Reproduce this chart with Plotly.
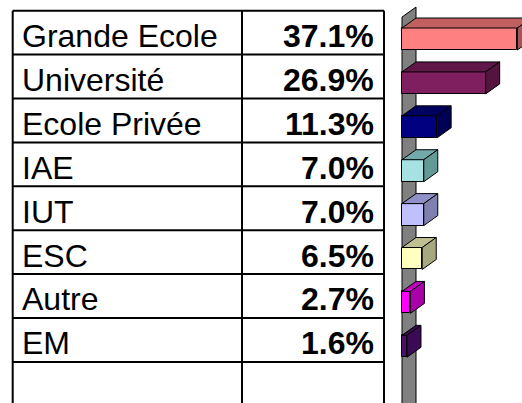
import plotly.graph_objects as go

# ---- data ----
categories = ["Grande Ecole", "Université", "Ecole Privée", "IAE", "IUT", "ESC", "Autre", "EM"]
values = [37.1, 26.9, 11.3, 7.0, 7.0, 6.5, 2.7, 1.6]
value_labels = ["37.1%", "26.9%", "11.3%", "7.0%", "7.0%", "6.5%", "2.7%", "1.6%"]
front_colors = ["#FF8080", "#7F1F5F", "#000080", "#A6E2E2", "#C0C0FF", "#FFFFC0", "#FF00FF", "#4A1068"]
top_colors = ["#C06060", "#5F1747", "#000060", "#72AAAA", "#9090C8", "#C0C092", "#C000C0", "#3A0A55"]
side_colors = ["#A85454", "#551440", "#000055", "#629A96", "#8080B0", "#A8A880", "#AA00AA", "#3A0A55"]

W, H = 522, 403
X0_PX, PX_PER_UNIT = 402.0, 3.11      # x axis mapping
Y0_PX, PX_PER_ROW = 39.0, 43.9        # y axis mapping (row index)
DX = 14.0 / PX_PER_UNIT               # 3D depth offsets in data units
DY = 10.0 / PX_PER_ROW
HALF = 0.25                           # half height of bar front face (rows)

xr = [-X0_PX / PX_PER_UNIT, (W - X0_PX) / PX_PER_UNIT]
yr = [(H - Y0_PX) / PX_PER_ROW, -Y0_PX / PX_PER_ROW]

ypos = list(range(len(categories)))

fig = go.Figure()

# front faces as real bars
fig.add_trace(go.Bar(
    x=values, y=ypos, orientation="h", base=0, width=2 * HALF,
    marker=dict(color=front_colors, line=dict(color="black", width=1)),
    hoverinfo="skip", showlegend=False,
))

# top and side faces (3D depth) computed from the values
for i, v in enumerate(values):
    c = ypos[i]
    top_x = [0, v, v + DX, DX, 0]
    top_y = [c - HALF, c - HALF, c - HALF - DY, c - HALF - DY, c - HALF]
    fig.add_trace(go.Scatter(x=top_x, y=top_y, mode="lines", fill="toself",
                             fillcolor=top_colors[i], line=dict(color="black", width=1),
                             hoverinfo="skip", showlegend=False))
    side_x = [v, v + DX, v + DX, v, v]
    side_y = [c - HALF, c - HALF - DY, c + HALF - DY, c + HALF, c - HALF]
    fig.add_trace(go.Scatter(x=side_x, y=side_y, mode="lines", fill="toself",
                             fillcolor=side_colors[i], line=dict(color="black", width=1),
                             hoverinfo="skip", showlegend=False))

shapes = []
# side wall of the 3D chart
wall_top = -0.5
wall_bot = yr[0] + 1
shapes.append(dict(type="path", xref="x", yref="y", layer="below",
                   path=f"M 0 {wall_bot} L 0 {wall_top} L {DX} {wall_top - DY} L {DX} {wall_bot} Z",
                   fillcolor="#808080", line=dict(color="black", width=1)))

# table grid
def px_x(p):
    return p / W
def px_y(p):
    return 1 - p / H

tbl_left, tbl_mid, tbl_right = 12.7, 242.0, 384.0
tbl_top, row_h = 10.7, 43.9
for k in range(len(categories) + 1):
    yy = tbl_top + row_h * k
    shapes.append(dict(type="line", xref="paper", yref="paper",
                       x0=px_x(tbl_left), x1=px_x(tbl_right), y0=px_y(yy), y1=px_y(yy),
                       line=dict(color="black", width=2)))
for xx in (tbl_left, tbl_mid, tbl_right):
    shapes.append(dict(type="line", xref="paper", yref="paper",
                       x0=px_x(xx), x1=px_x(xx), y0=px_y(tbl_top), y1=px_y(H + 5),
                       line=dict(color="black", width=2)))

annotations = []
font_family = "Liberation Sans, Arial, sans-serif"
for i, (cat, lab) in enumerate(zip(categories, value_labels)):
    yc = ypos[i] - 0.068
    annotations.append(dict(x=px_x(20), xref="paper", y=yc, yref="y", text=cat,
                            showarrow=False, xanchor="left", yanchor="middle",
                            font=dict(family=font_family, size=32, color="black")))
    annotations.append(dict(x=px_x(376), xref="paper", y=yc, yref="y", text=f"<b>{lab}</b>",
                            showarrow=False, xanchor="right", yanchor="middle",
                            font=dict(family=font_family, size=32, color="black")))

fig.update_layout(
    width=W, height=H, autosize=False,
    margin=dict(l=0, r=0, t=0, b=0, pad=0),
    paper_bgcolor="white", plot_bgcolor="white",
    xaxis=dict(range=xr, visible=False, fixedrange=True),
    yaxis=dict(range=yr, visible=False, fixedrange=True),
    shapes=shapes, annotations=annotations, showlegend=False,
    bargap=0,
)

fig.write_html("out.html", config={"displayModeBar": False},
               post_script="document.body.style.margin='0';document.body.style.overflow='hidden';")
